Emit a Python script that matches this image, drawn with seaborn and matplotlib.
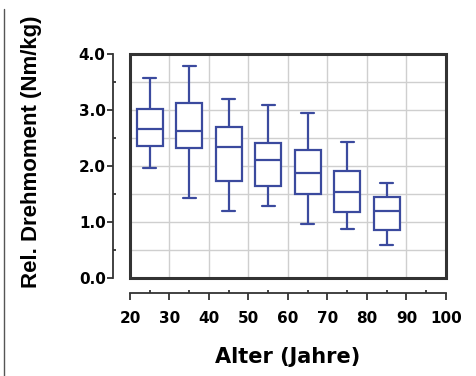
import numpy as np
import pandas as pd
import matplotlib
matplotlib.use("Agg")
import matplotlib.pyplot as plt
import seaborn as sns
from matplotlib.patches import Rectangle
from matplotlib.lines import Line2D

# age groups (centre of decade) and box statistics
ages = [25, 35, 45, 55, 65, 75, 85]
whisk_low = [1.97, 1.43, 1.20, 1.29, 0.96, 0.87, 0.59]
q1 = [2.36, 2.33, 1.73, 1.65, 1.50, 1.17, 0.85]
median = [2.67, 2.63, 2.34, 2.10, 1.87, 1.54, 1.20]
q3 = [3.01, 3.12, 2.70, 2.42, 2.29, 1.91, 1.45]
whisk_high = [3.58, 3.79, 3.19, 3.09, 2.94, 2.43, 1.69]

x_ticks = [20, 30, 40, 50, 60, 70, 80, 90, 100]
y_ticks = [0.0, 1.0, 2.0, 3.0, 4.0]

BOX_BLUE = "#3b4a9e"
FRAME = "#333333"

# five values per group -> quartiles from linear interpolation match exactly
rows = []
for i, age in enumerate(ages):
    for v in (whisk_low[i], q1[i], median[i], q3[i], whisk_high[i]):
        rows.append({"Alter": age, "Wert": v})
df = pd.DataFrame(rows)

sns.set_style("white")
plt.rcParams["text.color"] = "black"
plt.rcParams["axes.labelcolor"] = "black"
plt.rcParams["xtick.color"] = "black"
plt.rcParams["ytick.color"] = "black"

fig = plt.figure(figsize=(4.77, 3.76), dpi=100)
ax = fig.add_axes([0.2725, 0.2606, 0.6625, 0.5957])

# grid
for gx in range(30, 100, 10):
    ax.axvline(gx, color="#cfcfcf", lw=1.0, zorder=0)
for gy in np.arange(0.5, 4.0, 0.5):
    ax.axhline(gy, color="#cfcfcf", lw=1.0, zorder=0)

sns.boxplot(
    data=df, x="Alter", y="Wert", native_scale=True, whis=(0, 100),
    width=0.65, color="white", linecolor=BOX_BLUE, linewidth=1.6,
    showfliers=False, ax=ax,
    capprops={"color": BOX_BLUE}, whiskerprops={"color": BOX_BLUE},
    medianprops={"color": BOX_BLUE},
)
for patch in ax.patches:
    patch.set_facecolor("white")
    patch.set_edgecolor(BOX_BLUE)

ax.set_xlim(20, 100)
ax.set_ylim(0, 4)

# frame around plotting area
ax.add_patch(Rectangle((0, 0), 1, 1, transform=ax.transAxes, fill=False,
                       edgecolor=FRAME, lw=2.2, clip_on=False, zorder=5))

for s in ("top", "right"):
    ax.spines[s].set_visible(False)
ax.spines["left"].set_position(("outward", 12))
ax.spines["bottom"].set_position(("outward", 11))
for s in ("left", "bottom"):
    ax.spines[s].set_color(FRAME)
    ax.spines[s].set_linewidth(1.3)

ax.set_xticks(x_ticks)
ax.set_xticks(np.arange(25, 100, 10), minor=True)
ax.set_yticks(y_ticks)
ax.set_yticks(np.arange(0.5, 4.0, 1.0), minor=True)
ax.set_yticklabels([f"{v:.1f}" for v in y_ticks])
ax.set_xticklabels([str(v) for v in x_ticks])
ax.tick_params(bottom=True, left=True, which="both")
ax.tick_params(axis="x", which="major", direction="out", length=5,
               width=1.3, color=FRAME, labelsize=11, pad=8)
ax.tick_params(axis="y", which="major", direction="out", length=4.5,
               width=1.3, color=FRAME, labelsize=11, pad=1)
ax.tick_params(axis="both", which="minor", direction="in", length=2.5,
               width=1.3, color=FRAME)
for lab in ax.get_xticklabels() + ax.get_yticklabels():
    lab.set_fontweight("bold")

ax.set_ylabel("")
ax.set_xlabel("Alter (Jahre)", fontsize=15, fontweight="bold", va="top",
              color="black")
ax.xaxis.set_label_coords(0.5, -0.31)
fig.text(0.067, 0.597, "Rel. Drehmoment (Nm/kg)", rotation=90,
         ha="center", va="center", fontsize=16, fontweight="bold",
         family="Liberation Sans")

# thin page line at the left edge
fig.add_artist(Line2D([0.008, 0.008], [0.0, 0.975], color="#555555", lw=1.0))

fig.savefig("out.png", dpi=100)
